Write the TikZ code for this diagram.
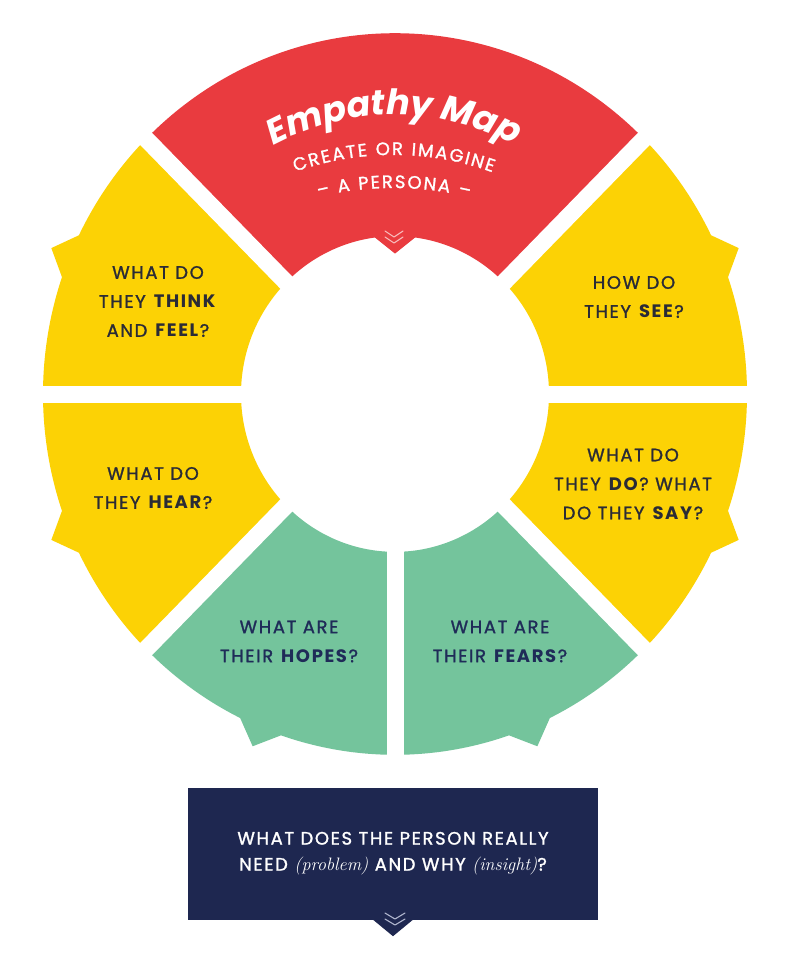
\documentclass[tikz,border=0pt]{standalone}
\usepackage{fontspec}
\usetikzlibrary{decorations.text}
\newfontfamily\popf{Poppins}[LetterSpace=9, UprightFeatures={FakeBold=1.3}]
\newfontfamily\popt{Poppins}[UprightFeatures={FakeBold=1.3}]
\definecolor{cred}{HTML}{E93B3F}
\definecolor{cyel}{HTML}{FCD205}
\definecolor{cgrn}{HTML}{74C49C}
\definecolor{cnavy}{HTML}{1E2750}
\definecolor{ytxt}{HTML}{2A2B36}
\definecolor{gtxt}{HTML}{1F2B58}
\definecolor{chevr}{HTML}{F7B9B9}
\definecolor{chevb}{HTML}{AEB4CC}
\newcommand\rIn{154}
\newcommand\rOut{352}
\newcommand\rTip{372}
\newcommand\ringseg[3]{%
  \pgfmathsetmacro\segm{(#2+#3)/2}%
  \pgfmathsetmacro\sega{\segm-3.6}%
  \pgfmathsetmacro\segb{\segm+3.6}%
  \fill[#1] (#2:\rIn) -- (#2:\rOut) arc[start angle=#2,end angle=\sega,radius=\rOut]
    -- (\segm:\rTip) -- (\segb:\rOut) arc[start angle=\segb,end angle=#3,radius=\rOut]
    -- (#3:\rIn) arc[start angle=#3,end angle=#2,radius=\rIn] -- cycle;}
\tikzset{
  segtext/.style={font=\popf\fontsize{18}{29}\selectfont, align=center, inner sep=0pt},
  ytext/.style={segtext, text=ytxt},
  gtext/.style={segtext, text=gtxt},
  chev/.style={line width=1.1pt, line cap=round, line join=round},
}
\begin{document}
\begin{tikzpicture}[x=1pt,y=1pt]
\useasboundingbox (0,0) rectangle (800,-977);
\fill[white] (0,0) rectangle (800,-977);
\begin{scope}[shift={(395,-394)},yscale=1.025]
  \fill[cred] (45:\rIn) -- (45:\rOut) arc[start angle=45,end angle=135,radius=\rOut]
    -- (135:\rIn) arc[start angle=135,end angle=97.5,radius=\rIn] -- (90:137)
    -- (82.5:\rIn) arc[start angle=82.5,end angle=45,radius=\rIn] -- cycle;
  \ringseg{cyel}{0}{45}
  \ringseg{cyel}{135}{180}
  \ringseg{cyel}{180}{225}
  \ringseg{cgrn}{225}{270}
  \ringseg{cgrn}{270}{315}
  \ringseg{cyel}{315}{360}
  \foreach \g in {0,45,135,180,225,270,315}
    \draw[white,line width=17pt] (0,0) -- (\g:378);
\end{scope}
% red chevron
\draw[chevr,chev] (385,-231) -- (394,-237) -- (403,-231);
\draw[chevr,chev] (385,-237) -- (394,-243) -- (403,-237);
% title texts on arcs
\path[decorate, decoration={text along path, text align=center, text color=white,
  text={|\popt\bfseries\itshape\fontsize{35}{35}\selectfont|Empathy Map}}]
  ([shift={(394,-369)}]150:254) arc[start angle=150,end angle=30,radius=254];
\path[decorate, decoration={text along path, text align=center, text color=white,
  text={|\popt\fontsize{18}{18}\selectfont\kern1.8pt|CREATE OR IMAGINE}}]
  ([shift={(393,-449)}]150:294) arc[start angle=150,end angle=30,radius=294];
\path[decorate, decoration={text along path, text align=center, text color=white,
  text={|\popt\fontsize{18}{18}\selectfont\kern1.8pt|– A PERSONA –}}]
  ([shift={(393,-518)}]130:330) arc[start angle=130,end angle=50,radius=330];
% segment texts
\node[ytext] (think) at (158,-301.5) {WHAT DO\\THEY \textbf{THINK}\\AND \textbf{FEEL}?};
\node[ytext] (see) at (634,-297) {HOW DO\\THEY \textbf{SEE}?};
\node[ytext] (hear) at (153,-488) {WHAT DO\\THEY \textbf{HEAR}?};
\node[ytext] (do) at (633,-484) {WHAT DO\\THEY \textbf{DO}? WHAT\\DO THEY \textbf{SAY}?};
\node[gtext] (hopes) at (289,-641.5) {WHAT ARE\\THEIR \textbf{HOPES}?};
\node[gtext] (fears) at (500,-641.5) {WHAT ARE\\THEIR \textbf{FEARS}?};
% bottom box
\node[fill=cnavy, minimum width=410pt, minimum height=132pt, inner sep=0pt] (need) at (393,-854) {};
\fill[cnavy] ([xshift=-20pt,yshift=0.5pt]need.south) -- ([yshift=-16pt]need.south) -- ([xshift=20pt,yshift=0.5pt]need.south) -- cycle;
\draw[chevb,chev] (385,-913) -- (395,-919) -- (405,-913);
\draw[chevb,chev] (385,-919) -- (395,-925) -- (405,-919);
\node[font=\popf\fontsize{18}{26}\selectfont, text=white, align=center, inner sep=0pt] (needtxt) at (393,-853.5)
  {WHAT DOES THE PERSON REALLY\\NEED {\normalfont\itshape (problem)} AND WHY {\normalfont\itshape (insight)}?};
\end{tikzpicture}
\end{document}
